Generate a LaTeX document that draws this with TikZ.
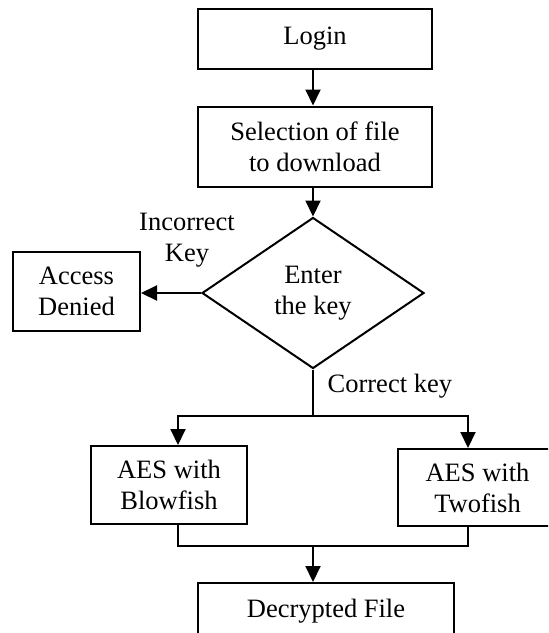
\documentclass[tikz,border=0pt]{standalone}
\usepackage{fontspec}
\setmainfont{Liberation Serif}
\usetikzlibrary{arrows.meta, shapes.geometric, positioning, calc}

\begin{document}
\begin{tikzpicture}[x=0.5pt, y=-0.5pt, line width=1pt,
    >={Triangle[length=8pt, width=7.5pt]},
    font=\fontsize{13.25}{15.5}\selectfont]
  \tikzset{
    stepbox/.style={draw, rectangle, inner sep=2pt, align=center},
    decision/.style={draw, diamond, inner sep=0pt, aspect=1.47,
      minimum width=111pt, minimum height=75.5pt, align=center},
  }
  \clip (0,0) rectangle (548,633);

  \node[stepbox, minimum width=117pt, minimum height=30pt] (login) at (315,39) {Login};
  \node[stepbox, minimum width=117pt, minimum height=40pt] (select) at (315,146.5)
    {Selection of file\\to download};
  \node[decision] (key) at (313,293) {Enter\\the key};
  \node[stepbox, minimum width=63.5pt, minimum height=39.5pt] (denied) at (76.5,291.5)
    {Access\\Denied};
  \node[stepbox, minimum width=78pt, minimum height=39pt] (blow) at (169,485)
    {AES with\\Blowfish};
  \node[stepbox, minimum width=79.5pt, minimum height=38.5pt] (two) at (477.5,487.5)
    {AES with\\Twofish};
  \node[stepbox, minimum width=128pt, minimum height=28.5pt] (decrypt) at (326,611.5)
    {Decrypted File};

  % split and merge points
  \coordinate (split) at (313,416);
  \coordinate (merge) at (313,546);

  \draw[->] (login.south -| key.north) -- (select.north -| key.north);
  \draw[->] (select.south -| key.north) -- (key.north);
  \draw[->] (key.west) -- (key.west -| denied.east);
  \node[align=center] (wrong) at (187,240) {Incorrect\\Key};

  \draw (key.south) -- (split);
  \node[anchor=west] (right) at (320,386) {Correct key};
  \draw[->] (split) -| ([xshift=4.5pt]blow.north);
  \draw[->] (split) -| ([xshift=-4.75pt]two.north);

  \draw ([xshift=4.5pt]blow.south) |- (merge) -| ([xshift=-4.75pt]two.south);
  \draw[->] (merge) -- (merge |- decrypt.north);
\end{tikzpicture}
\end{document}
